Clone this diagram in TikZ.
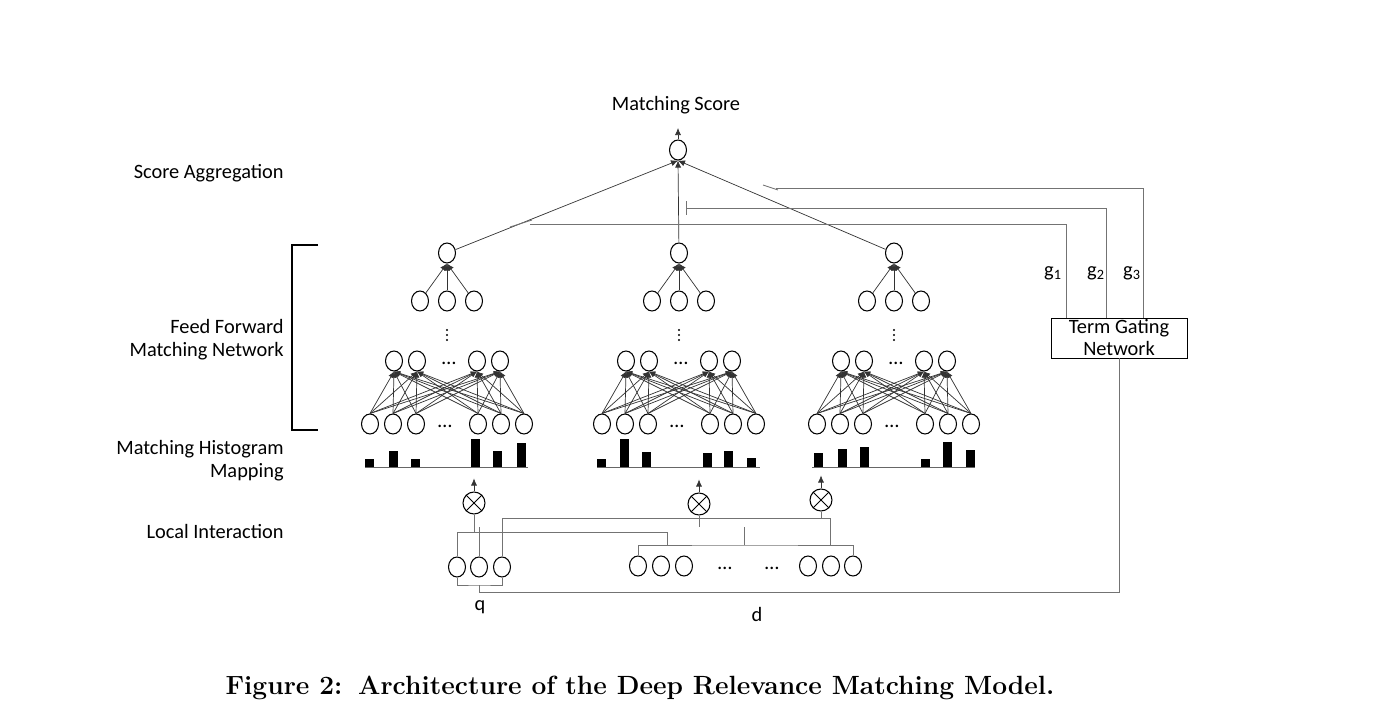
\documentclass[tikz,border=0pt]{standalone}
\usepackage{fontspec}
\newfontfamily\diafont{Carlito}
\usetikzlibrary{positioning, arrows.meta, shapes.geometric, calc}

\begin{document}
\begin{tikzpicture}[
    x=0.02cm, y=-0.02cm,
    font=\diafont\fontsize{11.6}{13}\selectfont,
    neuron/.style={draw, ellipse, inner sep=0pt, minimum width=0.34cm, minimum height=0.4cm, line width=0.6pt},
    mult/.style={draw, circle, inner sep=0pt, minimum size=0.44cm, line width=0.6pt,
        path picture={\draw[line width=0.5pt] (path picture bounding box.north west) -- (path picture bounding box.south east)
            (path picture bounding box.north east) -- (path picture bounding box.south west);}},
    arrow/.style={-{Latex[length=4pt, width=3.5pt]}, line width=0.4pt, black!80},
    wire/.style={line width=0.5pt, black!55},
    level/.style={anchor=east, align=right, inner sep=0pt},
    gatebox/.style={draw, rectangle, line width=0.5pt, minimum width=2.72cm, minimum height=0.8cm, inner sep=0pt, align=center, font=\diafont\fontsize{11.6}{12.5}\selectfont}
]
\useasboundingbox (0,0) rectangle (1400,710);

% Score aggregation
\node[neuron] (score) at (678,150) {};
\node (scoretxt) at (676,105) {Matching Score};
\coordinate (scoreout) at (678,128);
\draw[arrow] (score) -- (scoreout);

% Level labels
\node[level] (lblagg) at (284,173) {Score Aggregation};
\node[level] (lblffn) at (284,340) {Feed Forward\\Matching Network};
\node[level] (lblhist) at (284,461) {Matching Histogram\\Mapping};
\node[level] (lblloc) at (284,531) {Local Interaction};
\draw[line width=0.7pt] (318,245) -| (292,430) -- (318,430);

% Feed forward towers
\foreach \t/\cx in {1/447, 2/679, 3/894} {
  \node[neuron] (top\t) at (\cx,253) {};
  \foreach \k/\ox in {1/-27, 2/0, 3/27} {
    \node[neuron] (c\t\k) at (\cx+\ox,301) {};
    \draw[arrow] (c\t\k) -- (top\t.south);
  }
  \foreach \dy in {-5,0,5}
    \fill (\cx,335+\dy) circle (0.7pt);
  \foreach \k/\ox in {1/-53, 2/-30, 3/30, 4/53}
    \node[neuron] (h\t\k) at (\cx+\ox,361) {};
  \node (hdots\t) at (\cx+2,363) {…};
  \foreach \k/\ox in {1/-77, 2/-54, 3/-31, 4/31, 5/54, 6/77}
    \node[neuron] (i\t\k) at (\cx+\ox,424) {};
  \node (idots\t) at (\cx-2,426) {…};
  \foreach \a in {1,...,6}
    \foreach \b in {1,...,4}
      \draw[arrow, -{Latex[length=3.5pt, width=3pt]}] (i\t\a.north) -- (h\t\b.south);
  \draw[line width=0.4pt, black!60] (\cx-82,467) -- (\cx+81,467);
  \draw[arrow] (top\t) -- (score.south);
}

% Histograms
\foreach \x/\h in {365/8, 389/16, 411/8, 471/28, 493/16, 517/24,
                   597/8, 620/28, 642/15, 703/14, 724/16, 747/9,
                   814/14, 838/18, 860/20, 921/8, 943/25, 966/17}
  \fill (\x,467) rectangle ++(9,-\h);

% Local interaction
\node[mult] (m1) at (474,503) {};
\node[mult] (m2) at (699,504) {};
\node[mult] (m3) at (821,500) {};
\foreach \k in {1,2,3} {
  \path (m\k.north) ++(0,-13) coordinate (hin\k);
  \draw[arrow] (m\k) -- (hin\k);
}

\foreach \k/\x in {1/457, 2/479, 3/502}
  \node[neuron] (q\k) at (\x,567) {};
\foreach \k/\x in {1/638, 2/661, 3/684, 4/808, 5/831, 6/853}
  \node[neuron] (d\k) at (\x,566) {};
\node (ddots1) at (725,568) {…};
\node (ddots2) at (772,568) {…};
\node (qlbl) at (480,607) {q};
\node (dlbl) at (757,614) {d};

% Term gating
\node[gatebox] (gate) at (1119,338) {Term Gating\\Network};
\path (gate.north west) ++(16,0) coordinate (g1foot) ++(40,0) coordinate (g2foot) ++(37,0) coordinate (g3foot);
\node (g1lbl) at (1053,273) {g\textsubscript{1}};
\node (g2lbl) at (1096,273) {g\textsubscript{2}};
\node (g3lbl) at (1132,273) {g\textsubscript{3}};

\coordinate (g1end) at (530,224);
\coordinate (g2end) at (686,208);
\coordinate (g3end) at (776,188);
\draw[wire] (g1foot) |- (g1end);
\draw[wire] (g1end) ++(-20,3) -- ++(22,-7);
\draw[wire] (g2foot) |- (g2end);
\draw[wire] (g2end) ++(0,-7) -- ++(0,14);
\draw[wire] (g3foot) |- (g3end);
\draw[wire] (g3end) ++(-13,-3) -- ++(15,5);

% Wiring
\coordinate (qbus) at (0,532);
\coordinate (gbus) at (0,518);
\coordinate (stub) at (0,527);
\coordinate (dbus) at (744,545);
\coordinate (dj1) at (667,545);
\coordinate (dj3) at (830,545);
\coordinate (qlow) at (479,585);
\coordinate (qout) at (479,592);
\draw[wire] (q1.north) |- (dj1 |- qbus) -- (dj1);
\draw[wire] (m1.south) -- (m1.south |- qbus);
\draw[wire] (q2.north) -- (q2.north |- stub);
\draw[wire] (q3.north) |- (dj3 |- gbus) -- (dj3);
\draw[wire] (m2.south) -- (m2.south |- stub);
\draw[wire] (m3.south) -- (m3.south |- gbus);
\draw[wire] (d1.north) |- (dbus) -| (d6.north);
\draw[wire] (dbus) -- (dbus |- stub);
\draw[wire] (q1.south) |- (qlow) -| (q3.south);
\draw[wire] (qlow) -- (qout) -| (gate.south);

% Caption
\node[font=\normalfont\bfseries\fontsize{15}{18}\selectfont] (caption) at (640,688) {Figure 2:\hspace{0.6em}Architecture of the Deep Relevance Matching Model.};

\end{tikzpicture}
\end{document}
